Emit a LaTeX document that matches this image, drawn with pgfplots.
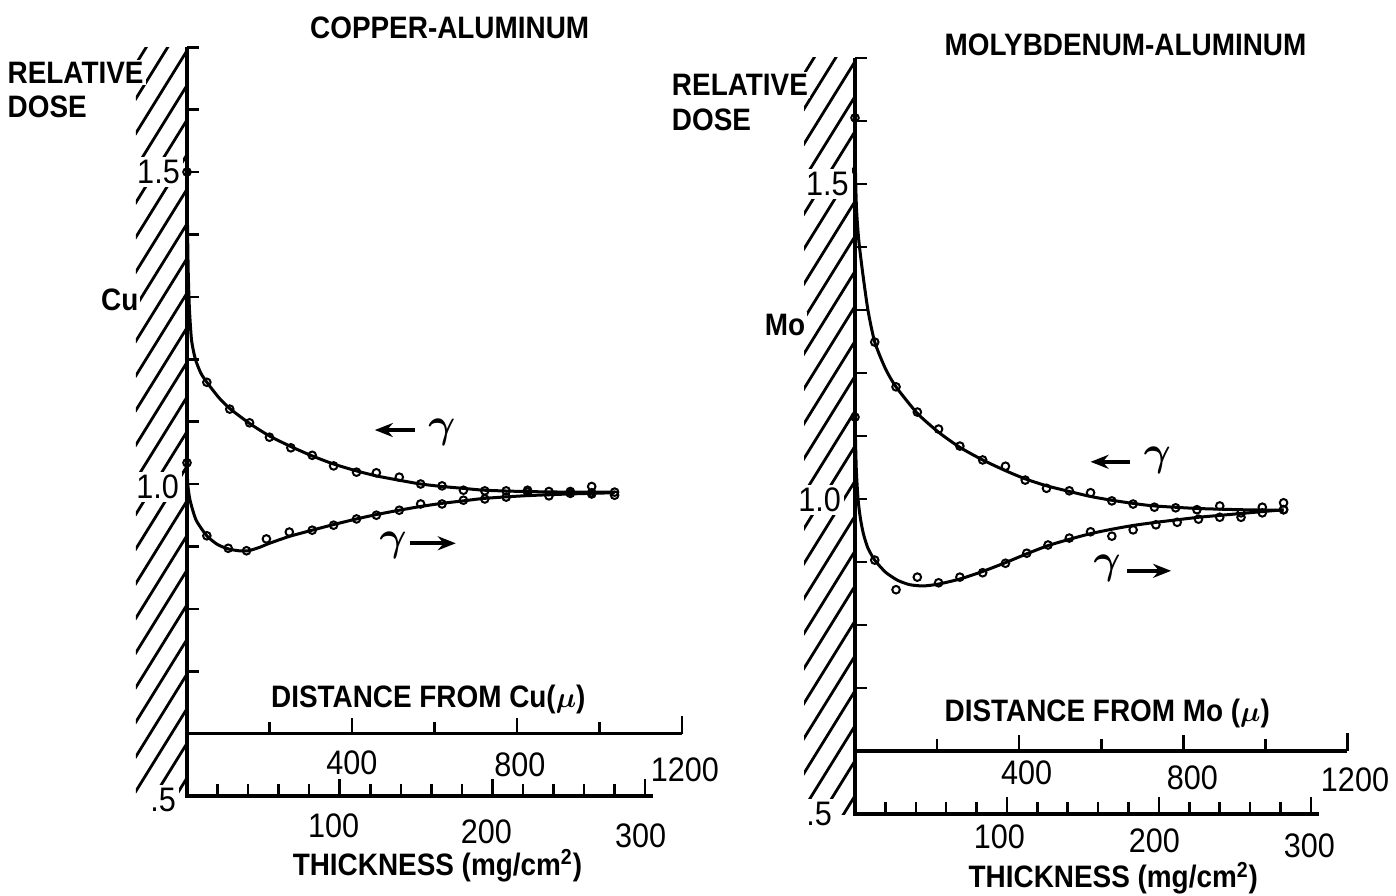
\documentclass[border=0pt]{standalone}
\usepackage{fontspec}
\setmainfont{Liberation Sans}[FakeStretch=0.9]
\usepackage{bm}
\usepackage{pgfplots}
\pgfplotsset{compat=1.18}
\usetikzlibrary{arrows.meta}

\newcommand\lab{\fontsize{15.5pt}{18pt}\selectfont\bfseries}
\newcommand\num{\fontsize{17pt}{20pt}\selectfont}
\newcommand\gam{\fontsize{21pt}{22pt}\selectfont}

\pgfplotsset{
  panel/.style={scale only axis, hide axis, clip=false,
    xmin=0, xmax=324, ymin=0.5, ymax=1.7, anchor=south west},
  curve/.style={no marks, line width=1.5pt, smooth, tension=0.4, black},
  pts/.style={only marks, mark=o, mark size=1.9pt,
    mark options={line width=1pt, fill=white, draw=black}},
}

\newcommand\decor{%
  % hatched wall
  \begin{scope}
    \clip (axis cs:-33.5,0.5) rectangle (axis cs:0,1.7);
    \pgfplotsinvokeforeach{0.529,0.5845,...,1.88}{%
      \draw[line width=1.4pt] (axis cs:0,##1) -- ++(-26pt,-42pt);}
  \end{scope}
  % axis lines
  \draw[line width=1.6pt] (axis cs:0,1.7) -- (axis cs:0,0.5) -- (axis cs:305,0.5);
  \draw[line width=1.6pt] (axis cs:0,0.6) -- (axis cs:324,0.6);
  % y ticks
  \pgfplotsinvokeforeach{0.6,0.7,...,1.65}{%
    \draw[line width=1.3pt] (axis cs:0,##1) -- ++(6pt,0pt);}
  % thickness ticks
  \pgfplotsinvokeforeach{20,40,60,80,120,140,160,180,220,240,260,280}{%
    \draw[line width=1.3pt] (axis cs:##1,0.5) -- ++(0pt,6pt);}
  \pgfplotsinvokeforeach{100,200,300}{%
    \draw[line width=1.3pt] (axis cs:##1,0.5) -- ++(0pt,8.5pt);}
  % distance ticks (200 micron steps, Al: 0.27 mg/cm2 per micron)
  \pgfplotsinvokeforeach{54,162,270}{%
    \draw[line width=1.3pt] (axis cs:##1,0.6) -- ++(0pt,6pt);}
  \pgfplotsinvokeforeach{108,216}{%
    \draw[line width=1.3pt] (axis cs:##1,0.6) -- ++(0pt,8pt);}
  \draw[line width=1.3pt] (axis cs:324,0.6) -- ++(0pt,9pt);
}

\begin{document}
\begin{tikzpicture}
\useasboundingbox (0,0) rectangle (698pt,447.5pt);

% ---------------- COPPER-ALUMINUM ----------------
\begin{axis}[panel, at={(93.5pt,49.5pt)}, width=247.4pt, height=374.4pt]
\decor
\addplot[curve] coordinates {
 (0,1.5) (0.3,1.42) (0.8,1.34) (1.6,1.28) (3,1.23) (5.5,1.2) (9,1.178)
 (13,1.163) (21,1.138) (28,1.121) (41,1.097) (54,1.077) (68,1.06) (82,1.045)
 (96,1.032) (111,1.021) (124,1.013) (139,1.006) (153,1.0) (167,0.996)
 (181,0.993) (195,0.99) (220,0.988) (250,0.987) (280,0.987)};
\addplot[curve] coordinates {
 (0,1.034) (0.5,1.0) (2,0.974) (6,0.942) (13,0.917) (20,0.903) (27,0.896)
 (34,0.893) (40,0.893) (47,0.898) (54,0.905) (67,0.916) (82,0.926)
 (96,0.935) (111,0.944) (124,0.951) (139,0.958) (153,0.964) (167,0.969)
 (181,0.973) (195,0.977) (220,0.981) (250,0.984) (280,0.986)};
\addplot[pts] coordinates {
 (0,1.5) (13,1.163) (28,1.120) (41,1.098) (54,1.075) (68,1.058) (82,1.046)
 (96,1.029) (111,1.019) (124,1.018) (139,1.011) (153,1.000) (167,0.997)
 (181,0.990) (195,0.989) (209,0.989) (223,0.990) (237,0.988) (251,0.988)
 (265,0.996) (265,0.986) (280,0.987)};
\addplot[pts] coordinates {
 (0,1.034) (13,0.917) (27,0.897) (39,0.893) (52,0.912) (67,0.923) (82,0.926)
 (96,0.934) (111,0.944) (124,0.950) (139,0.958) (153,0.968) (167,0.968)
 (181,0.974) (195,0.976) (209,0.979) (223,0.987) (237,0.981) (251,0.985)
 (265,0.984) (280,0.982)};
% labels
\node[font=\lab] at (axis cs:172,1.731) {COPPER-ALUMINUM};
\node[font=\lab, anchor=west, fill=white, inner sep=1pt] at (axis cs:-119,1.659) {RELATIVE};
\node[font=\lab, anchor=west, inner sep=1pt] at (axis cs:-119,1.604) {DOSE};
\node[font=\lab, fill=white, inner sep=1pt] at (axis cs:-44,1.295) {Cu};
\node[font=\num, anchor=east, fill=white, inner sep=1.5pt] at (axis cs:-2.5,1.5) {1.5};
\node[font=\num, anchor=east, fill=white, inner sep=1.5pt] at (axis cs:-3,0.995) {1.0};
\node[font=\num, anchor=east, fill=white, inner sep=1.5pt] at (axis cs:-5,0.494) {.5};
\draw[-{Stealth[length=9pt,width=7pt]}, line width=1.8pt] (axis cs:149,1.0865) -- (axis cs:123,1.0865);
\node[font=\gam] at (axis cs:167,1.083) {$\bm{\gamma}$};
\node[font=\gam] at (axis cs:135,0.902) {$\bm{\gamma}$};
\draw[-{Stealth[length=9pt,width=7pt]}, line width=1.8pt] (axis cs:146,0.905) -- (axis cs:176,0.905);
\node[font=\lab] at (axis cs:158,0.654) {DISTANCE FROM Cu($\bm{\mu}$)};
\node[font=\num] at (axis cs:108,0.553) {400};
\node[font=\num] at (axis cs:218,0.55) {800};
\node[font=\num] at (axis cs:326,0.542) {1200};
\node[font=\num] at (axis cs:96,0.452) {100};
\node[font=\num] at (axis cs:196,0.443) {200};
\node[font=\num] at (axis cs:297,0.437) {300};
\node[font=\lab] at (axis cs:164,0.388) {THICKNESS (mg/cm\textsuperscript{2})};
\end{axis}

% ---------------- MOLYBDENUM-ALUMINUM ----------------
\begin{axis}[panel, at={(427.5pt,40.5pt)}, width=246.2pt, height=378pt]
\decor
\addplot[curve] coordinates {
 (0,1.605) (0.3,1.52) (1,1.46) (2.5,1.41) (5,1.36) (8.5,1.30) (13,1.249)
 (20,1.207) (27,1.178) (41,1.136) (55,1.106) (69,1.082) (84,1.062)
 (99,1.045) (112,1.032) (126,1.021) (141,1.012) (155,1.004) (169,0.998)
 (183,0.993) (197,0.989) (225,0.985) (254,0.983) (282,0.982)};
\addplot[curve] coordinates {
 (0,1.13) (0.8,1.05) (2,1.0) (3.5,0.97) (5.5,0.945) (8.5,0.922) (13,0.903)
 (20,0.884) (28,0.871) (36,0.864) (45,0.862) (55,0.865) (69,0.873)
 (84,0.885) (99,0.899) (113,0.913) (127,0.926) (141,0.936) (155,0.945)
 (169,0.952) (183,0.958) (198,0.963) (212,0.967) (226,0.971) (240,0.974)
 (254,0.977) (268,0.98) (282,0.983)};
\addplot[pts] coordinates {
 (0,1.605) (13,1.249) (27,1.178) (41,1.138) (55,1.111) (69,1.084) (84,1.062)
 (99,1.052) (112,1.030) (126,1.017) (141,1.013) (155,1.010) (169,0.997)
 (183,0.992) (197,0.987) (211,0.986) (225,0.983) (240,0.989) (254,0.978)
 (268,0.987) (282,0.994) (282,0.983)};
\addplot[pts] coordinates {
 (0,1.13) (13,0.903) (27,0.856) (41,0.876) (55,0.867) (69,0.876) (84,0.883)
 (99,0.898) (113,0.914) (127,0.927) (141,0.938) (155,0.948) (169,0.941)
 (183,0.951) (198,0.959) (212,0.963) (226,0.968) (240,0.971) (254,0.971)
 (268,0.978) (282,0.983)};
% labels
\node[font=\lab] at (axis cs:178,1.721) {MOLYBDENUM-ALUMINUM};
\node[font=\lab, anchor=west, fill=white, inner sep=1pt] at (axis cs:-122,1.657) {RELATIVE};
\node[font=\lab, anchor=west, inner sep=1pt] at (axis cs:-122,1.602) {DOSE};
\node[font=\lab, fill=white, inner sep=1pt] at (axis cs:-46,1.276) {Mo};
\node[font=\num, anchor=east, fill=white, inner sep=1.5pt] at (axis cs:-2,1.5) {1.5};
\node[font=\num, anchor=east, fill=white, inner sep=1.5pt] at (axis cs:-7,0.998) {1.0};
\node[font=\num, anchor=east, fill=white, inner sep=1.5pt] at (axis cs:-13,0.5) {.5};
\draw[-{Stealth[length=9pt,width=7pt]}, line width=1.8pt] (axis cs:181,1.059) -- (axis cs:155,1.059);
\node[font=\gam] at (axis cs:199,1.062) {$\bm{\gamma}$};
\node[font=\gam] at (axis cs:166,0.89) {$\bm{\gamma}$};
\draw[-{Stealth[length=9pt,width=7pt]}, line width=1.8pt] (axis cs:179,0.886) -- (axis cs:208,0.886);
\node[font=\lab] at (axis cs:166,0.66) {DISTANCE FROM Mo ($\bm{\mu}$)};
\node[font=\num] at (axis cs:113,0.565) {400};
\node[font=\num] at (axis cs:222,0.558) {800};
\node[font=\num] at (axis cs:329,0.555) {1200};
\node[font=\num] at (axis cs:95,0.464) {100};
\node[font=\num] at (axis cs:197,0.458) {200};
\node[font=\num] at (axis cs:299,0.45) {300};
\node[font=\lab] at (axis cs:170,0.398) {THICKNESS (mg/cm\textsuperscript{2})};
\end{axis}
\end{tikzpicture}
\end{document}
